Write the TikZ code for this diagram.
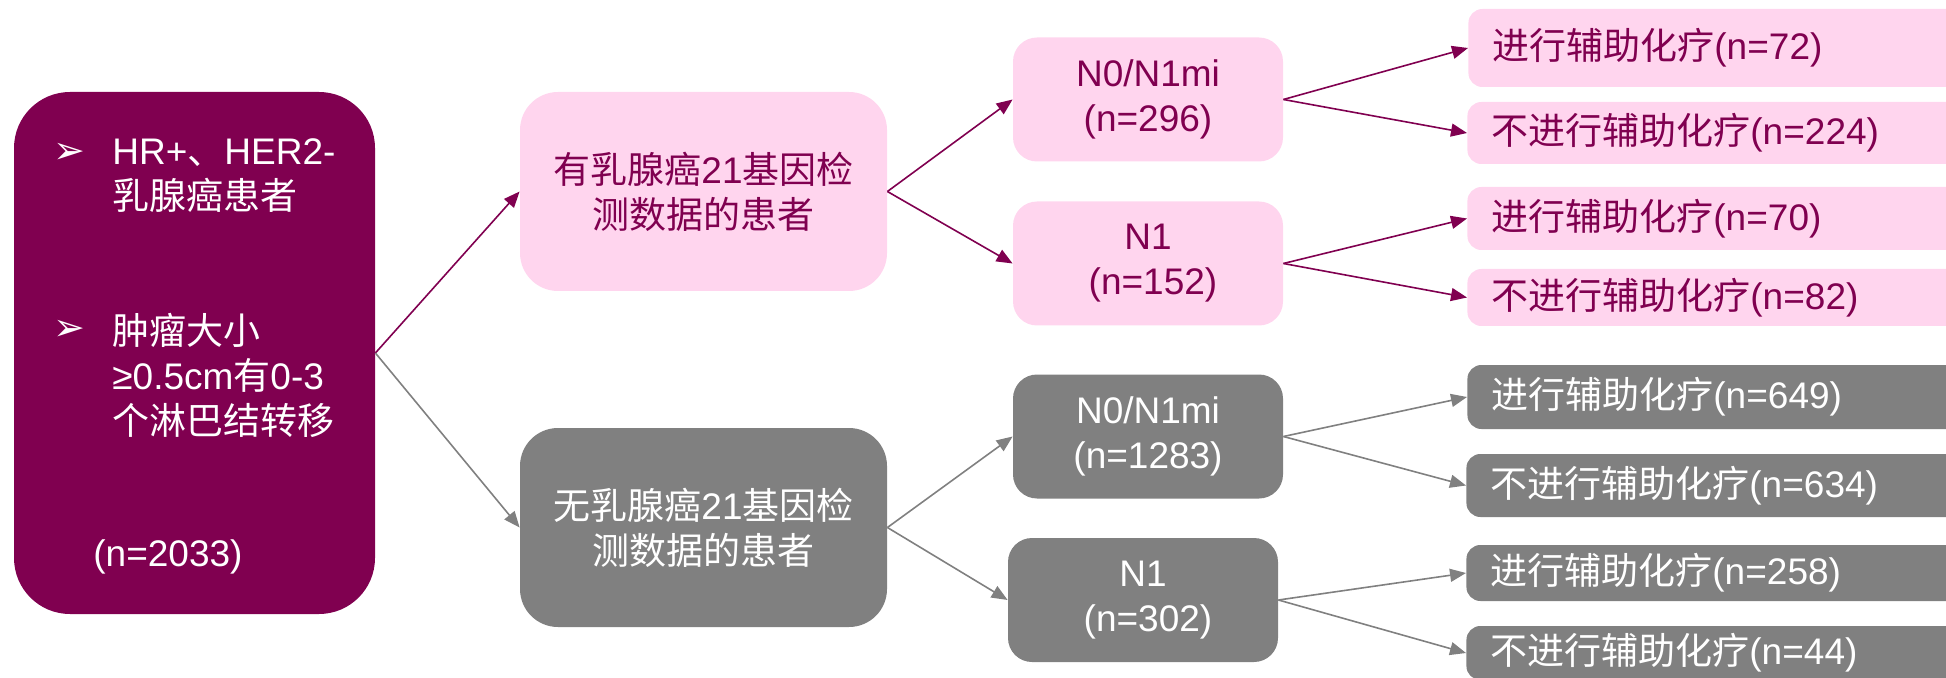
\documentclass[tikz,border=0pt]{standalone}
\usepackage{fontspec}
\setmainfont{Liberation Sans}
\newfontfamily\cjk{Noto Sans CJK SC}
\newfontfamily\dv{DejaVu Sans}
\usetikzlibrary{arrows.meta}
\definecolor{mag}{RGB}{128,0,80}
\definecolor{lpink}{RGB}{255,213,238}
\definecolor{mgray}{RGB}{128,128,128}
\tikzset{
  txt/.style={font=\fontsize{18.5}{22.5}\selectfont},
  mainbox/.style={fill=mag, rounded corners=28pt, draw=none, inner sep=0pt},
  pbox/.style={fill=lpink, text=mag, txt, align=center, inner sep=0pt},
  gbox/.style={fill=mgray, text=white, txt, align=center, inner sep=0pt},
  firstbox/.style={rounded corners=19pt, minimum width=183.5pt, minimum height=99.5pt},
  midbox/.style={rounded corners=12pt, minimum width=135pt, minimum height=62pt},
  outbox/.style={anchor=west, text width=226pt, inner xsep=12pt, inner ysep=0pt, align=left, rounded corners=7pt},
  maintxt/.style={txt, text=white, anchor=west, inner sep=0pt, align=left},
  bullet/.style={text=white, anchor=west, inner sep=0pt, font=\dv\fontsize{19}{19}\selectfont},
  parr/.style={draw=mag, line width=0.8pt, -{Triangle[length=8pt,width=6.5pt]}},
  garr/.style={draw=mgray, line width=0.8pt, -{Triangle[length=8pt,width=6.5pt]}},
}
\begin{document}
\begin{tikzpicture}[x=0.5pt, y=-0.5pt]
\useasboundingbox (0,0) rectangle (1946,678);
\clip (0,0) rectangle (1946,678);

% main box
\node[mainbox, minimum width=180.5pt, minimum height=261pt] (main) at (194.5,353) {};
\node[bullet] (b1) at (53,153) {➢};
\node[maintxt] (t1) at (112,175.5) {HR+{\cjk 、}HER2-\\{\cjk 乳腺癌患者}};
\node[bullet] (b2) at (53,330) {➢};
\node[maintxt] (t2) at (112,375) {{\cjk 肿瘤大小}\\≥0.5cm{\cjk 有}0-3\\{\cjk 个淋巴结转移}};
\node[maintxt] (t3) at (93,557) {(n=2033)};

% first level
\node[pbox, firstbox] (p1) at (703.5,191.5) {{\cjk 有乳腺癌}21{\cjk 基因检}\\{\cjk 测数据的患者}};
\node[gbox, firstbox] (g1) at (703.5,527.5) {{\cjk 无乳腺癌}21{\cjk 基因检}\\{\cjk 测数据的患者}};

% second level
\node[pbox, midbox] (pn0) at (1148,99.5) {N0/N1mi\\(n=296)};
\node[pbox, midbox] (pn1) at (1148,263.5) {N1\\\hspace*{5pt}(n=152)};
\node[gbox, midbox] (gn0) at (1148,436.5) {N0/N1mi\\(n=1283)};
\node[gbox, midbox] (gn1) at (1143,600) {N1\\\hspace*{5pt}(n=302)};

% third level
\node[pbox, outbox, minimum height=39pt] (pr1) at (1468,48) {{\cjk 进行辅助化疗}(n=72)};
\node[pbox, outbox, minimum height=31pt] (pr2) at (1467,133) {{\cjk 不进行辅助化疗}(n=224)};
\node[pbox, outbox, minimum height=31.5pt] (pr3) at (1467,218.5) {{\cjk 进行辅助化疗}(n=70)};
\node[pbox, outbox, minimum height=28.5pt] (pr4) at (1467,297.5) {{\cjk 不进行辅助化疗}(n=82)};
\node[gbox, outbox, minimum height=32pt] (gr1) at (1467,397) {{\cjk 进行辅助化疗}(n=649)};
\node[gbox, outbox, minimum height=31.5pt] (gr2) at (1466,485.5) {{\cjk 不进行辅助化疗}(n=634)};
\node[gbox, outbox, minimum height=28pt] (gr3) at (1466,573) {{\cjk 进行辅助化疗}(n=258)};
\node[gbox, outbox, minimum height=27pt] (gr4) at (1466,653) {{\cjk 不进行辅助化疗}(n=44)};

% connectors
\draw[parr] (main.east) -- (p1.west);
\draw[garr] (main.east) -- (g1.west);
\draw[parr] (p1.east) -- (pn0.west);
\draw[parr] (p1.east) -- (pn1.west);
\draw[garr] (g1.east) -- (gn0.west);
\draw[garr] (g1.east) -- (gn1.west);
\draw[parr] (pn0.east) -- (pr1.west);
\draw[parr] (pn0.east) -- (pr2.west);
\draw[parr] (pn1.east) -- (pr3.west);
\draw[parr] (pn1.east) -- (pr4.west);
\draw[garr] (gn0.east) -- (gr1.west);
\draw[garr] (gn0.east) -- (gr2.west);
\draw[garr] (gn1.east) -- (gr3.west);
\draw[garr] (gn1.east) -- (gr4.west);
\end{tikzpicture}
\end{document}
